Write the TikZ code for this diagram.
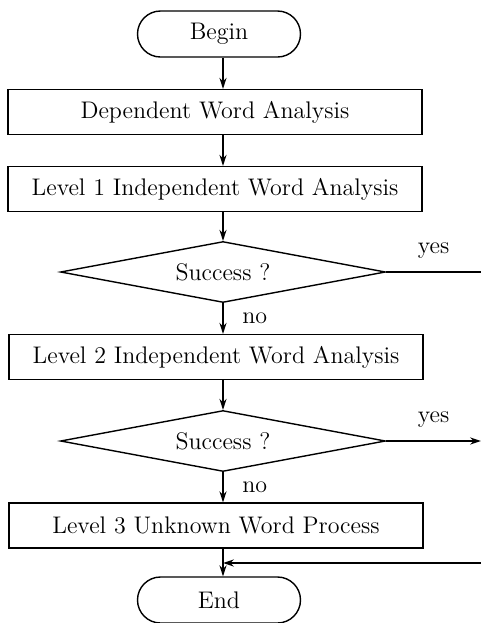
\documentclass[tikz,border=0pt]{standalone}
\usetikzlibrary{shapes.geometric,shapes.misc,arrows.meta}

\begin{document}
\begin{tikzpicture}[x=0.5pt,y=-0.5pt,font=\large,line width=0.7pt,
    terminal/.style={rounded rectangle,draw,minimum width=81.5pt,minimum height=23pt,inner sep=0pt},
    process/.style={rectangle,draw,minimum width=207pt,minimum height=22.5pt,inner sep=0pt},
    decision/.style={diamond,draw,shape aspect=5,minimum width=162.5pt,minimum height=30.5pt,inner sep=0pt},
    flow/.style={-{Stealth[length=5.5pt,width=3.6pt]}}]
      \useasboundingbox (0,0) rectangle (481,623);

      % Start and stop
      \node[terminal] (begin) at (219,34) {Begin};
      \node[terminal] (end) at (219,600) {End};

      % Analysis steps
      \node[process] (box1) at (215,112) {Dependent Word Analysis};
      \node[process] (box2) at (215,189) {Level 1 Independent Word Analysis};
      \node[process] (box3) at (216,357) {Level 2 Independent Word Analysis};
      \node[process] (box4) at (216,525.5) {Level 3 Unknown Word Process};

      % Tests
      \node[decision] (d1) at (223,272) {Success ?};
      \node[decision] (d2) at (223,441) {Success ?};

      % Page edge
      \coordinate (out1) at (481,272);
      \coordinate (out2) at (481,441);
      \coordinate (in3) at (481,563);

      % Main flow
      \draw[flow] (begin.south -| d1) -- (d1 |- box1.north);
      \draw[flow] (box1.south -| d1) -- (d1 |- box2.north);
      \draw[flow] (box2.south -| d1) -- (d1.north);
      \draw[flow] (d1.south) -- (d1 |- box3.north) node[midway,right=6pt] {no};
      \draw[flow] (box3.south -| d2) -- (d2.north);
      \draw[flow] (d2.south) -- (d2 |- box4.north) node[midway,right=6pt] {no};
      \draw[flow] (box4.south -| d2) -- (d2 |- end.north);

      % Exits
      \draw (d1.east) -- (out1) node[midway,above=3pt] {yes};
      \draw[flow] (d2.east) -- (out2) node[midway,above=3pt] {yes};
      \draw[flow] (in3) -- (in3 -| d2);
    \end{tikzpicture}
\end{document}
